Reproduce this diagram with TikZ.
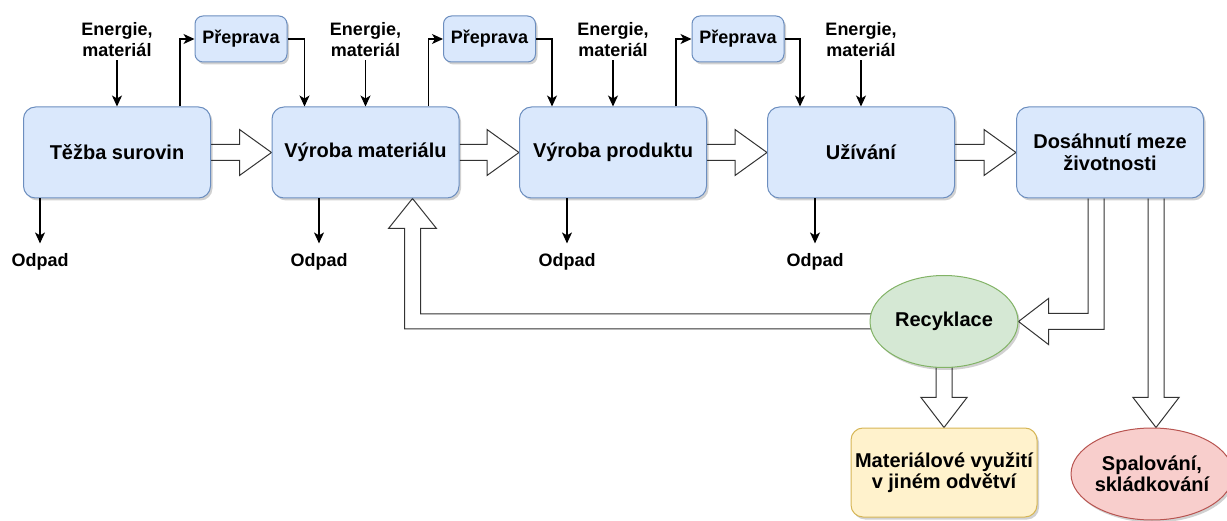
\documentclass[tikz,border=0pt]{standalone}
\usepackage{fontspec}
\setmainfont{Liberation Sans}
\usetikzlibrary{calc,arrows.meta,shadows,shapes.geometric}
\definecolor{bfill}{HTML}{DAE8FC}
\definecolor{bline}{HTML}{6C8EBF}
\definecolor{gfill}{HTML}{D5E8D4}
\definecolor{gline}{HTML}{82B366}
\definecolor{yfill}{HTML}{FFF2CC}
\definecolor{yline}{HTML}{D6B656}
\definecolor{rfill}{HTML}{F8CECC}
\definecolor{rline}{HTML}{B85450}
\definecolor{fatline}{HTML}{333333}
\pgfdeclarelayer{bg}
\pgfsetlayers{bg,main}
\begin{document}
\begin{tikzpicture}[x=1pt,y=-1pt,
  shad/.style={drop shadow={shadow xshift=2pt,shadow yshift=-2.5pt,fill=black,opacity=0.18}},
  mainbox/.style={draw=bline,fill=bfill,line width=1pt,rounded corners=12pt,minimum width=187pt,minimum height=91pt,align=center,font=\bfseries\fontsize{20}{22}\selectfont,shad},
  smallbox/.style={draw=bline,fill=bfill,line width=1pt,rounded corners=8pt,minimum width=92pt,minimum height=46pt,align=center,font=\bfseries\fontsize{18}{21}\selectfont,shad},
  lbl/.style={align=center,font=\bfseries\fontsize{18}{21}\selectfont,inner sep=3pt},
  odp/.style={font=\bfseries\fontsize{18}{21}\selectfont,inner xsep=0pt,inner ysep=10pt},
  arr/.style={line width=1.2pt,-{Stealth[length=11pt,width=10pt,inset=3pt]}},
  fat/.style={draw=fatline,fill=white,line width=1pt,line join=miter},
]
\useasboundingbox (0,0) rectangle (1227,521);

% main boxes
\node[mainbox] (b1) at (117,152.5) {Těžba surovin};
\node[mainbox] (b2) at (365.5,152.5) {Výroba materiálu};
\node[mainbox] (b3) at (613,152.5) {Výroba produktu};
\node[mainbox] (b4) at (861,152.5) {Užívání};
\node[mainbox] (b5) at (1110,152.5) {Dosáhnutí meze\\životnosti};

% transport boxes
\node[smallbox] (p1) at (241,39) {Přeprava};
\node[smallbox] (p2) at (489.5,39) {Přeprava};
\node[smallbox] (p3) at (738,39) {Přeprava};

% energy labels
\node[lbl] (e1) at (117,40) {Energie,\\materiál};
\node[lbl] (e2) at (365.5,40) {Energie,\\materiál};
\node[lbl] (e3) at (613,40) {Energie,\\materiál};
\node[lbl] (e4) at (861,40) {Energie,\\materiál};

% waste labels
\node[odp] (o1) at (40,262) {Odpad};
\node[odp] (o2) at (319,262) {Odpad};
\node[odp] (o3) at (567,262) {Odpad};
\node[odp] (o4) at (815,262) {Odpad};

% lower nodes
\node[ellipse,draw=gline,fill=gfill,line width=1pt,minimum width=148pt,minimum height=92pt,inner sep=0pt,font=\bfseries\fontsize{20}{22}\selectfont,shad] (rec) at (944,321.5) {Recyklace};
\node[draw=yline,fill=yfill,line width=1pt,rounded corners=12pt,minimum width=186pt,minimum height=89pt,align=center,font=\bfseries\fontsize{20}{21}\selectfont,shad] (mat) at (944,472.5) {Materiálové využití\\v jiném odvětví};
\node[ellipse,draw=rline,fill=rfill,line width=1pt,minimum width=148pt,minimum height=92pt,inner sep=0pt,align=center,font=\bfseries\fontsize{20}{21}\selectfont,shad] (sp) at (1152,474) {Spalování,\\skládkování};

% thin arrows
\foreach \e/\b in {e1/b1,e2/b2,e3/b3,e4/b4}
  \draw[arr] (\e.south) -- (\b.north);
\foreach \o/\b in {o1/b1,o2/b2,o3/b3,o4/b4}
  \draw[arr] (\b.south -| \o.north) -- (\o.north);
\foreach \b/\p in {b1/p1,b2/p2,b3/p3}
  \draw[arr] ([xshift=63pt]\b.north) |- (\p.west);
\foreach \p/\b in {p1/b2,p2/b3,p3/b4}
  \draw[arr] (\p.east) -| ([xshift=-61pt]\b.north);

% fat arrows
\begin{pgfonlayer}{bg}
\foreach \a/\b in {b1/b2,b2/b3,b3/b4,b4/b5}
  \draw[fat] ($(\a.east)+(0,-8)$) -- ($(\b.west)+(-32,-8)$) -- ($(\b.west)+(-32,-23)$) -- (\b.west) -- ($(\b.west)+(-32,23)$) -- ($(\b.west)+(-32,8)$) -- ($(\a.east)+(0,8)$);
% to recycling
\draw[fat] ($(b5.south)+(-22,0)$) |- ($(rec.east)+(30,-8)$) -- ++(0,-15) -- (rec.east) -- ($(rec.east)+(30,23)$) -- ++(0,-15) -| ($(b5.south)+(-6,0)$);
% to incineration
\coordinate (t2) at ($(b5.south |- sp.north)+(46,0)$);
\draw[fat] ($(b5.south)+(38,0)$) -- ($(t2)+(-8,-30)$) -- ($(t2)+(-23,-30)$) -- (t2) -- ($(t2)+(23,-30)$) -- ($(t2)+(8,-30)$) -- ($(b5.south)+(54,0)$);
% recycling to other branch
\draw[fat] ($(rec.south)+(-8,-5)$) -- ($(mat.north)+(-8,-30)$) -- ($(mat.north)+(-23,-30)$) -- (mat.north) -- ($(mat.north)+(23,-30)$) -- ($(mat.north)+(8,-30)$) -- ($(rec.south)+(8,-5)$);
% recycling back to material production
\coordinate (t3) at ($(b2.south)+(47,0)$);
\draw[fat] ($(rec.west)+(5,-7.5)$) -| ($(t3)+(8,30)$) -- ($(t3)+(24,30)$) -- (t3) -- ($(t3)+(-24,30)$) -- ($(t3)+(-8,30)$) |- ($(rec.west)+(5,7.5)$);
\end{pgfonlayer}
\end{tikzpicture}
\end{document}
